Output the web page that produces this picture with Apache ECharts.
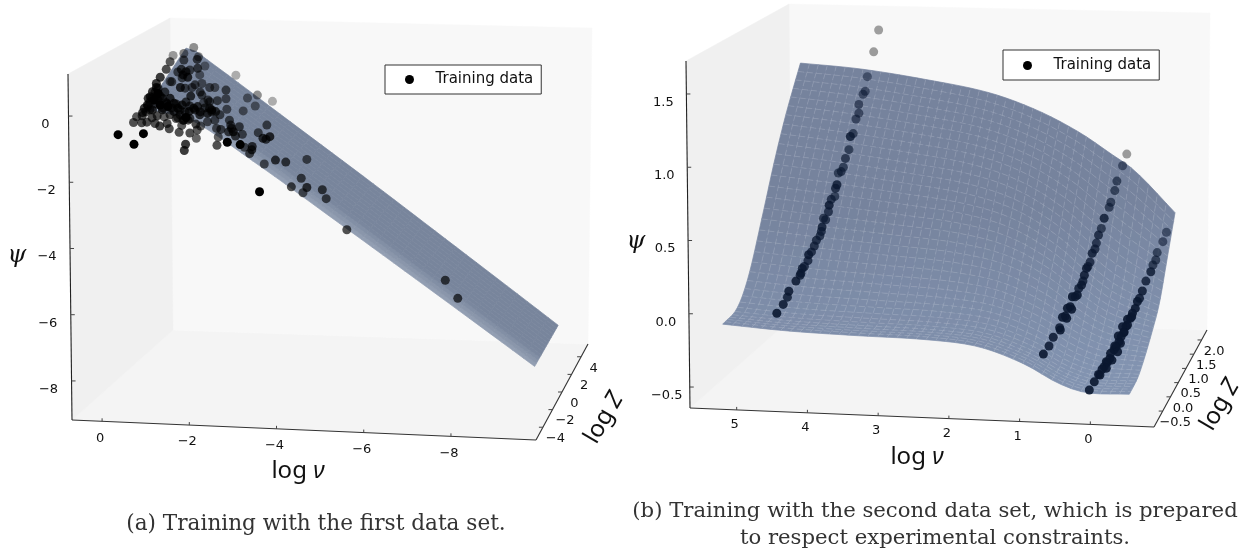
<!DOCTYPE html>
<html><head><meta charset="utf-8">
<style>html,body{margin:0;padding:0;background:#fff}#c{width:1241px;height:550px}</style>
<script src="https://cdn.jsdelivr.net/npm/echarts@6/dist/echarts.min.js"></script>
</head><body><div id="c"></div>
<script>
// ---------- tick labels ----------
const aNuTicks=[0,-2,-4,-6,-8], aZTicks=[-4,-2,0,2,4], aPsiTicks=[0,-2,-4,-6,-8];
const bNuTicks=[5,4,3,2,1,0], bZTicks=[-0.5,0,0.5,1,1.5,2], bPsiTicks=[1.5,1,0.5,0,-0.5];
// ---------- surface (a) ----------
const aSurfNu=[-0.41,-0.55,-0.8,-1.5,-3,-5,-7,-9.57];
const aSurfZ=[-2.35,2.35];
const aSurfPsi=[
[-0.35,-0.30,-0.35,-0.55,-1.81,-3.62,-5.44,-7.78],
[0.85,0.84,0.61,-0.05,-1.48,-3.37,-5.28,-7.72]];
// ---------- surface (b) ----------
const bSurfNu=[5.42,4.5,3.5,2.5,1.75,1.1,0.6,0.2,-0.42];
const bSurfZ=[-0.5,0,0.4,0.9,1.3,1.7,2.2];
const bSurfPsi=[ // rows follow bSurfZ, columns follow bSurfNu
[-0.16,-0.19,-0.205,-0.215,-0.25,-0.355,-0.48,-0.537,-0.537],
[-0.13,-0.161,-0.175,-0.187,-0.224,-0.331,-0.458,-0.516,-0.521],
[0.035,0.001,-0.022,-0.044,-0.095,-0.217,-0.358,-0.431,-0.462],
[0.398,0.356,0.312,0.264,0.181,0.022,-0.16,-0.272,-0.354],
[0.712,0.666,0.604,0.534,0.425,0.239,0.032,-0.107,-0.241],
[0.995,0.948,0.885,0.805,0.684,0.505,0.312,0.169,-0.031],
[1.303,1.27,1.204,1.116,0.994,0.84,0.685,0.553,0.255]];
// ---------- training points: [log nu, psi, nearness to viewer 0-1], read in the logZ=0 plane ----------
const aPoints=[[0.51,-1.99,1],[0.14,-2.28,1],[-0.08,-1.96,.95],[0.15,-1.62,.8],[-0.04,-1.63,.8],[0.08,-1.45,.75],[-0.35,-1.65,.8],[-0.46,-1.73,.85],[-0.63,-1.65,.8],[-0.68,-1.81,.8],[-0.91,-1.92,.8],[-0.97,-1.71,.75],[-1.16,-1.94,.8],[-1.31,-2.10,.7],[-1.33,-1.85,.75],[-1.41,-1.73,.7],[-1.06,-2.28,.9],[-1.03,-2.47,.9],[-1.79,-2.31,.8],[-1.82,-2.06,.7],[-1.78,-1.80,.7],[-1.88,-1.83,.75],[-2.03,-2.22,.95],[-2.33,-2.29,1],[-2.43,-2.37,.7],[-2.61,-2.35,.85],[-2.60,-2.45,.85],[-2.55,-2.56,.75],[-2.89,-2.88,.7],[-3.15,-2.76,.85],[-3.39,-2.82,.8],[-3.88,-2.74,.7],[-2.78,-3.72,1],[-3.52,-3.57,.8],[-3.75,-3.31,.75],[-3.88,-3.59,.85],[-3.79,-3.75,.7],[-4.24,-3.66,.8],[-4.33,-3.93,.75],[-4.81,-4.87,.8],[-7.10,-6.40,.8],[-7.39,-6.95,.8],
[-2.23,-0.19,.36],[-3.08,-0.98,.36],[-2.73,-0.79,.5],[-2.50,-0.88,.55],[-2.68,-1.12,.55],[-2.40,-1.27,.6],[-2.02,-1.22,.65],[-2.00,-0.64,.7],[-2.00,-0.90,.65],[-1.74,-0.56,.6],[-2.95,-1.70,.7],[-2.75,-1.93,.7],[-2.86,-2.10,.85],[-3.02,-2.05,.9],[-2.93,-2.13,.8],[-1.25,0.65,.5],[-0.77,0.41,.45],[-1.02,0.47,.55],[-1.36,0.37,.55],[-1.51,0.09,.5],[-1.39,-0.18,.55],[-1.44,-0.44,.6],[-1.62,-0.56,.65],[-1.02,0.27,.7],[-1.33,0.29,.75],[-0.70,0.22,.75],[-0.61,-0.01,.8],[-0.47,-0.25,.9],[-0.70,-0.38,.6],[-0.96,-0.01,.8],[-1.00,-0.18,.9],[-1.11,-0.25,.9],[-1.34,0.02,.75],[-0.94,-0.56,.9],[-1.21,-0.56,.65],[-1.18,-0.82,.85],[-1.44,-0.79,.7],[-1.62,-0.99,.7],[-1.80,-0.96,.7],[-1.48,-1.02,.6],
[-0.38,-0.56,.9],[-0.29,-0.69,.9],[-0.42,-0.74,.95],[-0.19,-0.89,.9],[-0.33,-0.94,.95],[-0.52,-0.89,.9],[-0.70,-0.89,.9],[-0.17,-1.09,.9],[-0.29,-1.24,.9],[-0.06,-1.32,.9],[-0.47,-1.09,.95],[-0.65,-1.14,.95],[-0.79,-1.04,.9],[-0.98,-1.09,.9],[-1.07,-1.47,.95],[-0.84,-1.50,.75],[-0.56,-1.45,.7],[-1.25,-1.19,.9],[-1.39,-1.39,.85],[-1.57,-1.34,.9],[-1.67,-1.24,.9],[-1.76,-1.29,.85],[-1.16,-1.50,.8],[-0.52,-1.24,.9],[-0.79,-1.29,.85],[-0.93,-1.39,.8],[-1.07,-1.00,.8],[-1.34,-1.14,.85],[-1.57,-1.60,.7],[-2.08,-1.55,.7],[-2.13,-1.80,.85],[-2.31,-1.75,.75],[-2.17,-1.90,.9],[-2.22,-2.03,.8],[-2.38,-1.98,.7],[-2.11,-1.70,.75],[-2.06,-1.90,.8],
[-0.38,-0.44,.9],[-0.24,-0.84,.9],[-0.61,-1.02,.9],[-0.88,-1.19,.9],[-0.10,-1.19,.9],[-1.14,-1.29,.9],[-1.62,-1.19,.85],[-1.07,-0.08,.85],[-0.42,-0.94,.9],[-1.02,-1.55,.85],
[-0.42,-0.58,.8],[-0.35,-0.70,.8],[-0.28,-0.88,.8],[-0.23,-1.00,.8],[-0.19,-1.12,.8],[-0.14,-1.30,.8],[-0.23,-1.24,.8],[-0.37,-1.06,.8],[-0.47,-0.82,.8],[-0.53,-1.18,.8],[-0.63,-1.06,.8],[-0.74,-1.18,.8],[-0.84,-1.06,.8],[-0.93,-1.24,.8],[-1.05,-1.30,.8],[-1.16,-1.12,.8],[-1.28,-1.24,.8],[-1.40,-1.30,.8],[-1.51,-1.18,.8],[-0.70,-1.39,.8],[-0.88,-1.48,.8],[-1.00,-1.55,.8],[-0.28,-1.48,.8],[-0.40,-1.42,.8],[-0.05,-1.42,.8],[-0.16,-1.61,.8],[-0.58,-0.70,.8],[-0.74,-0.39,.7],[-0.88,-0.09,.7],[-0.98,-0.27,.7],[-1.16,-0.03,.7],[-1.05,-0.58,.7],[-1.28,-0.48,.7],[-1.40,-0.70,.7],[-1.58,-0.94,.7],[-1.74,-1.55,.7],[-1.86,-1.39,.7],[-1.67,-1.30,.8],[-1.12,-1.55,.8],[-1.30,-1.67,.8]];
const bPoints=[[3.23,1.74,.4],[3.30,1.59,.42],[3.39,1.42,.55],[3.42,1.32,.6],[3.45,1.30,.6],[3.51,1.23,.65],[3.51,1.17,.65],[3.55,1.13,.65],[3.59,1.03,.7],[3.63,1.01,.9],[3.65,0.92,.7],[3.70,0.86,.75],[3.73,0.80,.7],[3.76,0.77,.75],[3.80,0.76,.7],[3.82,0.68,.9],[3.84,0.655,.85],[3.85,0.60,.7],[3.93,0.54,.95],[3.94,0.495,.8],[4.01,0.45,.75],[4.03,0.39,.9],[4.04,0.36,.8],[4.11,0.30,.85],[4.14,0.26,.85],[4.22,0.20,.95],[4.23,0.16,.85],[4.31,0.107,.9],[4.33,0.073,.9],[4.34,0.06,.9],[4.40,0.02,.95],[4.50,-0.05,.95],[4.52,-0.09,.9],[4.58,-0.14,.95],[4.67,-0.20,1],
[3.90,0.58,.8],[3.98,0.44,.8],[4.06,0.33,.8],[4.18,0.22,.85],[4.28,0.12,.85],
[-0.28,0.89,.42],[-0.22,0.81,.6],[-0.14,0.705,.7],[-0.11,0.64,.7],[-0.055,0.56,.7],[-0.03,0.525,.7],[0.04,0.45,.9],[0.08,0.38,.75],[0.12,0.335,.85],[0.15,0.28,.8],[0.21,0.21,.9],[0.24,0.15,.85],[0.29,0.107,.95],[0.32,0.06,.95],[0.36,-0.007,.95],[0.40,-0.03,.9],[0.45,-0.087,.9],[0.52,-0.155,1],[0.59,-0.22,1],[0.67,-0.30,.95],[0.76,-0.365,.95],[0.82,-0.425,.95],[0.90,-0.48,1],
[0.17,0.24,.85],[0.27,0.12,.85],[0.34,0.02,.9],[0.42,-0.075,1],[0.49,-0.087,1],[0.50,-0.173,1],[0.56,-0.166,1],[0.57,-0.235,1],[0.63,-0.228,1],[0.66,-0.315,1],
[-0.84,0.354,.6],[-0.79,0.29,.65],[-0.71,0.215,.7],[-0.69,0.164,.75],[-0.65,0.13,.75],[-0.62,0.084,.9],[-0.55,0.02,.9],[-0.50,-0.048,.95],[-0.46,-0.098,.95],[-0.40,-0.167,1],[-0.36,-0.20,1],[-0.33,-0.235,1],[-0.27,-0.29,1],[-0.24,-0.327,1],[-0.20,-0.36,1],[-0.17,-0.395,1],[-0.13,-0.43,1],[-0.10,-0.45,1],[-0.04,-0.51,1],[-0.005,-0.537,1],[0.04,-0.567,1],[0.12,-0.62,1],[0.18,-0.67,1],[0.25,-0.726,1],
[-0.43,-0.12,1],[-0.35,-0.224,1],[-0.29,-0.242,1],[-0.29,-0.281,1],[-0.22,-0.292,1],[-0.24,-0.333,1],[-0.16,-0.356,1],[-0.19,-0.406,1],[-0.11,-0.425,1],[-0.15,-0.464,1],[-0.05,-0.475,1],[-0.07,-0.521,1],[0.01,-0.532,1],[0.01,-0.577,1],[0.07,-0.584,1],[0.10,-0.623,1]];

// ---------- view calibration of each 3D box ----------
const viewA={ x0:140,y0:69,sx:43,sy:33, planeNu:[-10.5,3], planePsi:[-14,2],
  nu:[0.69,-9.95], z:[-5.45,5.45], psi:[-9.18,1.27],
  LFB:[72,420],RFB:[536,440],LBB:[173,330],RBB:[588,344],LFT:[68,74],RFT:[534,90],LBT:[170,18],RBT:[592,28],
  nuTicks:aNuTicks,zTicks:aZTicks,psiTicks:aPsiTicks,fmt:v=>String(v).replace('-','\u2212'),nuDy:17,
  nuTitle:[298,471],zTitle:[604,418],psiTitle:[17,256]};
const viewB={ x0:1107,y0:284,sx:70.7,sy:146, planeNu:[-1.5,7], planePsi:[-1.7,1.9],
  nu:[5.66,-0.9], z:[-1.06,2.35], psi:[-0.643,1.725],
  LFB:[690,408],RFB:[1154,427],LBB:[792,318],RBB:[1207,330],LFT:[686,61],RFT:[1152,75],LBT:[789,4],RBT:[1210,13],
  nuTicks:bNuTicks,zTicks:bZTicks,psiTicks:bPsiTicks,fmt:v=>v.toFixed(1).replace('-','\u2212'),nuDy:15,
  nuTitle:[917,457],zTitle:[1220,405],psiTitle:[636,242]};
viewB.nuFmt=v=>String(v); viewA.nuFmt=viewA.fmt;

const mix=(a,b,t)=>a+(b-a)*t;
function project(v,nu,z,psi){
  const u=(nu-v.nu[0])/(v.nu[1]-v.nu[0]), w=(z-v.z[0])/(v.z[1]-v.z[0]), h=(psi-v.psi[0])/(v.psi[1]-v.psi[0]);
  const r=[0,1].map(i=>{
    const bot=mix(mix(v.LFB[i],v.RFB[i],u),mix(v.LBB[i],v.RBB[i],u),w);
    const top=mix(mix(v.LFT[i],v.RFT[i],u),mix(v.LBT[i],v.RBT[i],u),w);
    return mix(bot,top,h);});
  return [(v.x0-r[0])/v.sx,(v.y0-r[1])/v.sy];
}
const plane=(v,p)=>[(v.x0-p[0])/v.sx,(v.y0-p[1])/v.sy];

function boxSeries(v,i){
  return {type:'custom',xAxisIndex:i,yAxisIndex:i,z:1,silent:true,animation:false,data:[[0,0]],clip:false,
   renderItem:(p,api)=>{
    const C=k=>api.coord(plane(v,v[k])), P=(a,b,c)=>api.coord(project(v,a,b,c));
    const poly=(ks,fill)=>({type:'polygon',shape:{points:ks.map(C)},style:{fill,stroke:fill,lineWidth:.5}});
    const line=(a,b,col,w)=>({type:'line',shape:{x1:a[0],y1:a[1],x2:b[0],y2:b[1]},style:{stroke:col,lineWidth:w}});
    const txt=(pos,s,font,rot)=>({type:'text',x:pos[0],y:pos[1],rotation:rot||0,
      style:{text:s,fill:'#111',font,textAlign:'center',textVerticalAlign:'middle',verticalAlign:'middle'}});
    const kids=[poly(['LFB','RFB','RBB','LBB'],'#f4f4f4'),poly(['LBB','RBB','RBT','LBT'],'#f8f8f8'),poly(['LFB','LBB','LBT','LFT'],'#f0f0f0')];
    kids.push(line(C('LFB'),C('LFT'),'#222',1.1),line(C('LFB'),C('RFB'),'#333',1.1),line(C('RFB'),C('RBB'),'#333',1.1));
    const f='13px "DejaVu Sans"';
    const [nL]=v.nu,[zF]=v.z,[pB]=v.psi, nR=v.nu[1];
    v.psiTicks.forEach(t=>{const a=P(nL,zF,t);kids.push(line(a,[a[0]+4,a[1]],'#444',1),txt([a[0]-23,a[1]+8.5],v.fmt(t),f));});
    v.nuTicks.forEach(t=>{const a=P(t,zF,pB);kids.push(line(a,[a[0],a[1]-3],'#444',1),txt([a[0]-2,a[1]+v.nuDy],v.nuFmt(t),f));});
    v.zTicks.forEach(t=>{const a=P(nR,t,pB);kids.push(line(a,[a[0]-4,a[1]],'#444',1),txt([a[0]+12.5,a[1]+11.5],v.fmt(t),f));});
    const big='24px "Noto Sans"', it='italic 24px "Noto Sans"';
    const T=k=>api.coord(plane(v,v[k]));
    kids.push(
      {type:'text',x:T('nuTitle')[0],y:T('nuTitle')[1],style:{rich:{i:{font:it,fill:'#111'}},text:'log {i|\u03BD}',fill:'#111',font:big,textAlign:'center',verticalAlign:'middle'}},
      {type:'text',x:T('zTitle')[0],y:T('zTitle')[1],rotation:Math.PI/3,style:{rich:{i:{font:it,fill:'#111'}},text:'log {i|Z}',fill:'#111',font:big,textAlign:'center',verticalAlign:'middle'}},
      txt(T('psiTitle'),'\u03C8','italic 24px "DejaVu Serif"'));
    return {type:'group',children:kids};
   }};
}
// smooth (cubic Hermite) evaluation of the tabulated surface between its read values
function hermite(xs,ys,x){
  const n=xs.length, up=xs[1]>xs[0];
  let k=0;while(k<n-2&&(up?x>xs[k+1]:x<xs[k+1]))k++;
  const h=xs[k+1]-xs[k],t=(x-xs[k])/h;
  const m0=k>0?(ys[k+1]-ys[k-1])/(xs[k+1]-xs[k-1]):(ys[1]-ys[0])/h;
  const m1=k<n-2?(ys[k+2]-ys[k])/(xs[k+2]-xs[k]):(ys[k+1]-ys[k])/h;
  const t2=t*t,t3=t2*t;
  return (2*t3-3*t2+1)*ys[k]+(t3-2*t2+t)*h*m0+(-2*t3+3*t2)*ys[k+1]+(t3-t2)*h*m1;
}
function surfPsi(nuArr,zArr,mat,nu,z){
  return hermite(zArr,mat.map(row=>hermite(nuArr,row,nu)),z);
}
function range(a,b,n){return Array.from({length:n+1},(_,k)=>a+(b-a)*k/n);}
function lerpCol(a,b,t){t=Math.max(0,Math.min(1,t));return 'rgb('+a.map((c,i)=>Math.round(mix(c,b[i],t))).join(',')+')';}

function surfaceSeries(v,i,nuArr,zArr,mat,nN,nZ,color,meshAlpha){
  const nus=range(nuArr[0],nuArr[nuArr.length-1],nN), zs=range(zArr[0],zArr[zArr.length-1],nZ);
  const cells=[];for(let a=0;a<nN;a++)for(let b=0;b<nZ;b++)cells.push([a,b]);
  const at=(api,a,b)=>api.coord(project(v,nus[a],zs[b],surfPsi(nuArr,zArr,mat,nus[a],zs[b])));
  const out=[{type:'custom',xAxisIndex:i,yAxisIndex:i,z:2,silent:true,animation:false,clip:false,data:cells,
    renderItem:(p,api)=>{const a=api.value(0),b=api.value(1);
      const col=color(nus[a],zs[b],surfPsi(nuArr,zArr,mat,nus[a],zs[b]));
      return {type:'polygon',shape:{points:[at(api,a,b),at(api,a+1,b),at(api,a+1,b+1),at(api,a,b+1)]},style:{fill:col,stroke:col,lineWidth:.7}};}}];
  if(meshAlpha>0){
    const lines=[];for(let a=1;a<nN;a++)lines.push([0,a]);for(let b=1;b<nZ;b++)lines.push([1,b]);
    out.push({type:'custom',xAxisIndex:i,yAxisIndex:i,z:2,silent:true,animation:false,clip:false,data:lines,
      renderItem:(p,api)=>{const k=api.value(0),n=api.value(1);
        const pts=k===0?zs.map((_,b)=>at(api,n,b)):nus.map((_,a)=>at(api,a,n));
        return {type:'polyline',shape:{points:pts},style:{fill:'none',stroke:'rgba(255,255,255,'+meshAlpha+')',lineWidth:.7,lineDash:[6,3]}};}});
  }
  return out;
}
function pointSeries(i,pts,size,near,far,gain){
  return {type:'scatter',name:'Training data',xAxisIndex:i,yAxisIndex:i,z:3,silent:true,animation:false,symbolSize:size,clip:false,
    itemStyle:{color:'#000'},
    data:pts.map(p=>({value:[p[0],p[1]],itemStyle:{color:p[2]>.45?near:far,opacity:(i===0&&p[2]>=.95)?1:p[2]*gain}}))};
}
const gridOf=v=>({left:v.x0-v.planeNu[1]*v.sx,width:(v.planeNu[1]-v.planeNu[0])*v.sx,top:v.y0-v.planePsi[1]*v.sy,height:(v.planePsi[1]-v.planePsi[0])*v.sy});
const xOf=(v,i)=>({type:'value',gridIndex:i,show:false,inverse:true,min:v.planeNu[0],max:v.planeNu[1]});
const yOf=(v,i)=>({type:'value',gridIndex:i,show:false,min:v.planePsi[0],max:v.planePsi[1]});
const legendAt=(l,t,pt)=>({left:l,top:t,orient:'horizontal',selectedMode:false,backgroundColor:'#fff',borderColor:'#333',borderWidth:1,borderRadius:0,
  padding:[pt,8,7,20],itemWidth:42,itemHeight:9,itemGap:0,data:['Training data'],
  itemStyle:{color:'#000',opacity:1},
  textStyle:{fontFamily:'DejaVu Sans',fontSize:15,color:'#111'}});
const capFont={fontFamily:'DejaVu Serif',fontSize:21.6,fontWeight:'normal',color:'#333',lineHeight:27};

const chart=echarts.init(document.getElementById('c'),null,{renderer:'canvas'});
chart.setOption({
  animation:false,backgroundColor:'#fff',
  title:[{text:'(a) Training with the first data set.',left:316,top:511,textAlign:'center',textStyle:capFont,padding:0},
         {text:'(b) Training with the second data set, which is prepared\nto respect experimental constraints.',left:935,top:498,textAlign:'center',textStyle:Object.assign({},capFont,{fontSize:21.2}),padding:0}],
  legend:[legendAt(385,65,7),legendAt(1003,50,8)],
  grid:[gridOf(viewA),gridOf(viewB)],
  xAxis:[xOf(viewA,0),xOf(viewB,1)],
  yAxis:[yOf(viewA,0),yOf(viewB,1)],
  series:[
    boxSeries(viewA,0),boxSeries(viewB,1),
    ...surfaceSeries(viewA,0,aSurfNu,aSurfZ,aSurfPsi,36,14,
      (n,z)=>lerpCol([146,158,178],[120,133,156],(z+2.35)/1.1),0),
    ...surfaceSeries(viewB,1,bSurfNu,bSurfZ,bSurfPsi,42,32,
      (n,z,p)=>lerpCol([130,147,176],[118,131,157],(p+0.5)/0.9),0.2),
    pointSeries(0,aPoints,9,'#000','#000',.85),pointSeries(1,bPoints,9,'#0a1730','#000',.9)
  ]
});
</script></body></html>
